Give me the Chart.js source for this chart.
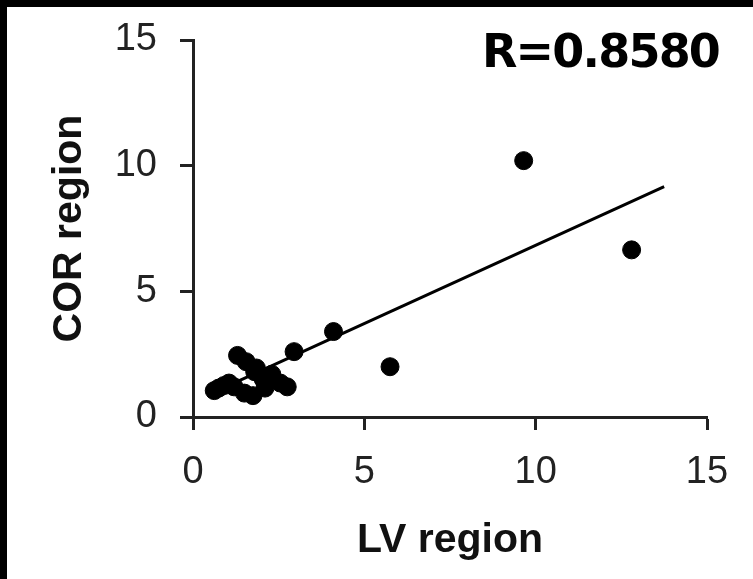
<!DOCTYPE html>
<html>
<head>
<meta charset="utf-8">
<script src="https://cdn.jsdelivr.net/npm/chart.js@4.4.1/dist/chart.umd.min.js"></script>
<style>
  html, body { margin: 0; padding: 0; background: #fff; }
  #frame {
    position: relative;
    width: 753px;
    height: 579px;
    box-sizing: border-box;
    border-top: 7px solid #000;
    border-left: 7px solid #000;
    background: #fff;
    overflow: hidden;
  }
  #chart { position: absolute; left: 0; top: 0; }
  #rlabel {
    position: absolute;
    left: 475px;
    top: 21px;
    font-family: "DejaVu Sans", Verdana, sans-serif;
    font-weight: bold;
    font-size: 46px;
    line-height: 1;
    letter-spacing: -1.8px;
    color: #000;
    white-space: nowrap;
  }
</style>
</head>
<body>
<div id="frame">
  <canvas id="chart" width="746" height="572"></canvas>
  <div id="rlabel">R=0.8580</div>
</div>
<script>
// LV region (x) vs COR region (y)
const lvValues = [0.62, 0.75, 0.9, 1.05, 1.2, 1.3, 1.55, 1.5, 1.75, 1.8, 1.85, 2.05, 2.1, 2.3, 2.55, 2.75, 2.95, 4.1, 5.75, 9.65, 12.8];
const corValues = [1.05, 1.15, 1.25, 1.35, 1.2, 2.45, 2.2, 0.95, 0.85, 1.8, 1.95, 1.5, 1.15, 1.7, 1.35, 1.2, 2.6, 3.4, 2.0, 10.2, 6.65];

// trend line end points
const fitX = [0.6, 13.75];
const fitY = [0.98, 9.17];

const tickValues = [0, 5, 10, 15];
const corrLabel = 'R=0.8580';

const axisColor = '#222';
const tickFont = { family: '"Liberation Sans", Arial, sans-serif', size: 38 };
const titleFont = { family: '"Liberation Sans", Arial, sans-serif', size: 41, weight: 'bold' };

document.getElementById('rlabel').textContent = corrLabel;

function axisOptions(title, titlePadding, tickPadding) {
  return {
    type: 'linear',
    min: 0,
    max: 15,
    afterBuildTicks: (scale) => {
      scale.ticks = tickValues.map((v) => ({ value: v }));
    },
    ticks: { color: '#222', font: tickFont, padding: tickPadding, maxRotation: 0 },
    grid: { drawOnChartArea: false, drawTicks: true, tickLength: 13, tickWidth: 3, color: axisColor },
    border: { display: true, color: axisColor, width: 3 },
    title: { display: true, text: title, color: '#111', font: titleFont, padding: titlePadding },
  };
}

const xScale = axisOptions('LV region', { top: 0, bottom: 14 }, 20);
xScale.afterFit = (scale) => {
  scale.height = 162;
  scale.paddingLeft = 0;
  scale.paddingRight = 0;
};
const yScale = axisOptions('COR region', { top: 38, bottom: 0 }, 23);
yScale.afterFit = (scale) => {
  scale.width = 186;
  scale.paddingTop = 0;
  scale.paddingBottom = 0;
};

new Chart(document.getElementById('chart'), {
  type: 'scatter',
  data: {
    datasets: [
      {
        label: 'Trend',
        type: 'line',
        data: fitX.map((x, i) => ({ x, y: fitY[i] })),
        borderColor: '#000',
        borderWidth: 3,
        pointRadius: 0,
        fill: false,
        order: 2,
      },
      {
        label: 'Regions',
        data: lvValues.map((x, i) => ({ x, y: corValues[i] })),
        backgroundColor: '#000',
        borderColor: '#000',
        pointRadius: 9,
        pointHoverRadius: 9,
        order: 1,
      },
    ],
  },
  options: {
    responsive: false,
    animation: false,
    layout: { padding: { top: 33, right: 46, left: 0, bottom: 0 } },
    plugins: { legend: { display: false }, tooltip: { enabled: false } },
    scales: { x: xScale, y: yScale },
  },
});
</script>
</body>
</html>
